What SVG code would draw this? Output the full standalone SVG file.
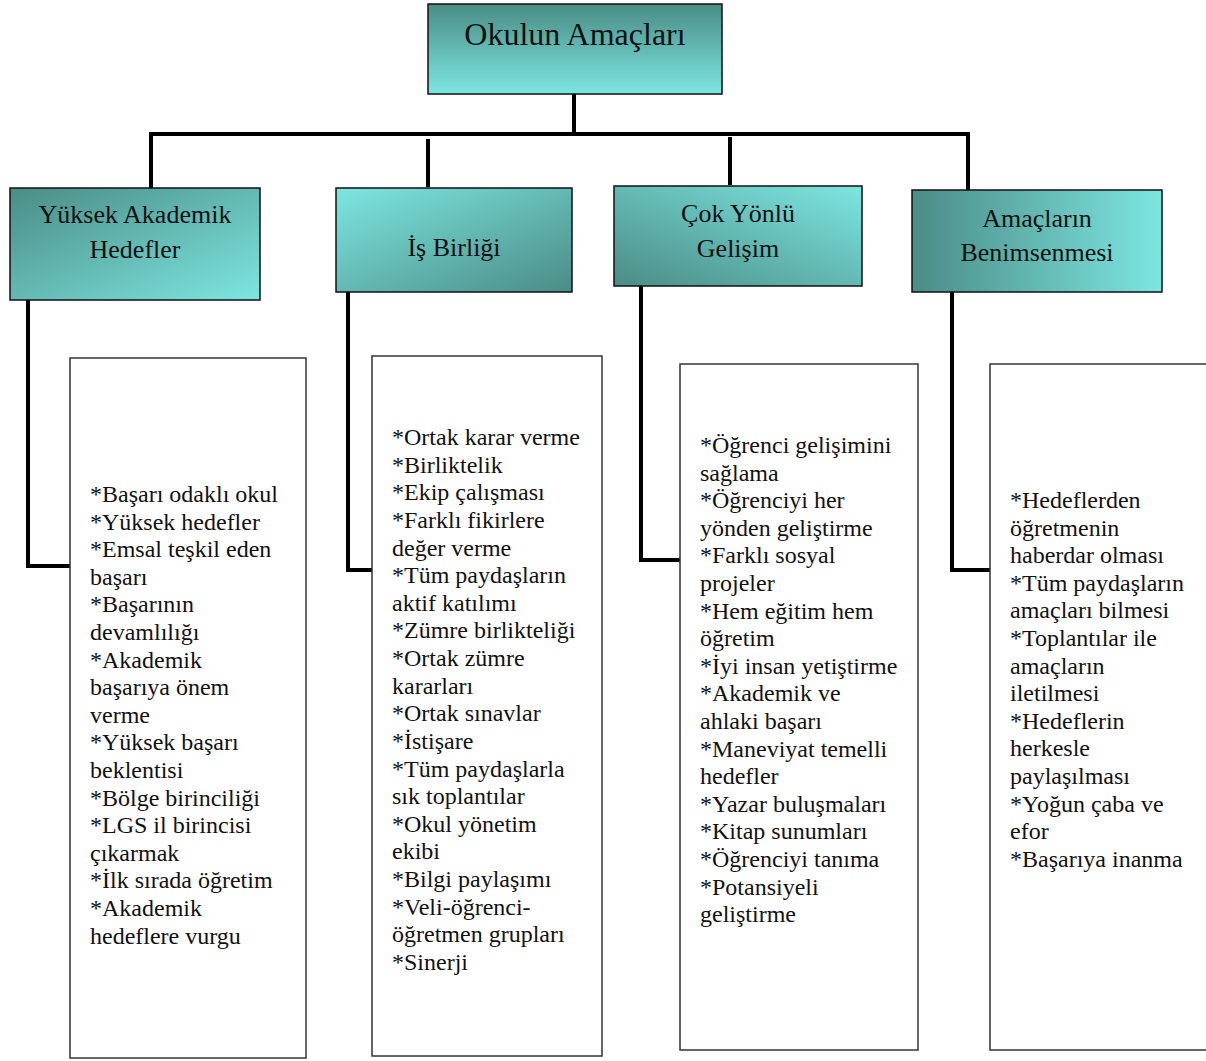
<svg xmlns="http://www.w3.org/2000/svg" width="1206" height="1061" viewBox="0 0 1206 1061">
  <defs>
    <linearGradient id="gTop" x1="0" y1="0" x2="0" y2="1">
      <stop offset="0" stop-color="#4b8c86"/>
      <stop offset="1" stop-color="#7de6e1"/>
    </linearGradient>
    <linearGradient id="gTLdark" x1="0" y1="0" x2="1" y2="1">
      <stop offset="0" stop-color="#4b8c86"/>
      <stop offset="1" stop-color="#7de6e1"/>
    </linearGradient>
    <linearGradient id="gBRdark" x1="0" y1="0" x2="1" y2="1">
      <stop offset="0" stop-color="#7de6e1"/>
      <stop offset="1" stop-color="#4b8c86"/>
    </linearGradient>
    <linearGradient id="gBLdark" x1="0" y1="1" x2="1" y2="0">
      <stop offset="0" stop-color="#4b8c86"/>
      <stop offset="1" stop-color="#7de6e1"/>
    </linearGradient>
    <linearGradient id="gLdark" x1="0" y1="0" x2="1" y2="0">
      <stop offset="0" stop-color="#4b8c86"/>
      <stop offset="1" stop-color="#7de6e1"/>
    </linearGradient>
  </defs>
  <style>
    .head { stroke: #111; stroke-width: 1.5; }
    .list { fill: #fff; stroke: #333; stroke-width: 1.5; }
    .title { font-family: "Liberation Serif", "Times New Roman", serif; font-size: 32px; fill: #111; text-anchor: middle; }
    .lbl { font-family: "Liberation Serif", "Times New Roman", serif; font-size: 26px; fill: #111; text-anchor: middle; }
    .item { font-family: "Liberation Serif", "Times New Roman", serif; font-size: 24px; fill: #111; }
    .wire { fill: none; stroke: #000; stroke-width: 4; stroke-linejoin: miter; }
  </style>
  <rect width="1206" height="1061" fill="#fff"/>

  <!-- connectors -->
  <g id="connectors">
    <path class="wire" d="M574 94 V134"/>
    <path class="wire" d="M151 188 V134 H968 V191"/>
    <path class="wire" d="M428 139 V187"/>
    <path class="wire" d="M730 137 V185"/>
    <path class="wire" d="M28 300 V566 H72"/>
    <path class="wire" d="M348 292 V570 H374"/>
    <path class="wire" d="M641 286 V560 H682"/>
    <path class="wire" d="M952 292 V570 H991"/>
  </g>

  <!-- root node -->
  <g id="okulun-amaclari">
    <rect class="head" x="428" y="4" width="294" height="90" fill="url(#gTop)"/>
    <text class="title" x="575" y="45">Okulun Amaçları</text>
  </g>

  <!-- branch nodes -->
  <g id="yuksek-akademik-hedefler">
    <rect class="head" x="10" y="188" width="250" height="112" fill="url(#gTLdark)"/>
    <text class="lbl" x="135" y="223">Yüksek Akademik</text>
    <text class="lbl" x="135" y="258">Hedefler</text>
  </g>
  <g id="is-birligi">
    <rect class="head" x="336" y="188" width="236" height="104" fill="url(#gBRdark)"/>
    <text class="lbl" x="454" y="256">İş Birliği</text>
  </g>
  <g id="cok-yonlu-gelisim">
    <rect class="head" x="614" y="186" width="248" height="100" fill="url(#gBLdark)"/>
    <text class="lbl" x="738" y="222">Çok Yönlü</text>
    <text class="lbl" x="738" y="257">Gelişim</text>
  </g>
  <g id="amaclarin-benimsenmesi">
    <rect class="head" x="912" y="190" width="250" height="102" fill="url(#gLdark)"/>
    <text class="lbl" x="1037" y="227">Amaçların</text>
    <text class="lbl" x="1037" y="261">Benimsenmesi</text>
  </g>

  <!-- detail lists -->
  <g id="liste-akademik">
    <rect class="list" x="70" y="358" width="236" height="700"/>
    <text class="item" x="90" y="502">
      <tspan x="90" dy="0">*Başarı odaklı okul</tspan>
      <tspan x="90" dy="27.6">*Yüksek hedefler</tspan>
      <tspan x="90" dy="27.6">*Emsal teşkil eden</tspan>
      <tspan x="90" dy="27.6">başarı</tspan>
      <tspan x="90" dy="27.6">*Başarının</tspan>
      <tspan x="90" dy="27.6">devamlılığı</tspan>
      <tspan x="90" dy="27.6">*Akademik</tspan>
      <tspan x="90" dy="27.6">başarıya önem</tspan>
      <tspan x="90" dy="27.6">verme</tspan>
      <tspan x="90" dy="27.6">*Yüksek başarı</tspan>
      <tspan x="90" dy="27.6">beklentisi</tspan>
      <tspan x="90" dy="27.6">*Bölge birinciliği</tspan>
      <tspan x="90" dy="27.6">*LGS il birincisi</tspan>
      <tspan x="90" dy="27.6">çıkarmak</tspan>
      <tspan x="90" dy="27.6">*İlk sırada öğretim</tspan>
      <tspan x="90" dy="27.6">*Akademik</tspan>
      <tspan x="90" dy="27.6">hedeflere vurgu</tspan>
    </text>
  </g>
  <g id="liste-isbirligi">
    <rect class="list" x="372" y="356" width="230" height="700"/>
    <text class="item" x="392" y="445">
      <tspan x="392" dy="0">*Ortak karar verme</tspan>
      <tspan x="392" dy="27.63">*Birliktelik</tspan>
      <tspan x="392" dy="27.63">*Ekip çalışması</tspan>
      <tspan x="392" dy="27.63">*Farklı fikirlere</tspan>
      <tspan x="392" dy="27.63">değer verme</tspan>
      <tspan x="392" dy="27.63">*Tüm paydaşların</tspan>
      <tspan x="392" dy="27.63">aktif katılımı</tspan>
      <tspan x="392" dy="27.63">*Zümre birlikteliği</tspan>
      <tspan x="392" dy="27.63">*Ortak zümre</tspan>
      <tspan x="392" dy="27.63">kararları</tspan>
      <tspan x="392" dy="27.63">*Ortak sınavlar</tspan>
      <tspan x="392" dy="27.63">*İstişare</tspan>
      <tspan x="392" dy="27.63">*Tüm paydaşlarla</tspan>
      <tspan x="392" dy="27.63">sık toplantılar</tspan>
      <tspan x="392" dy="27.63">*Okul yönetim</tspan>
      <tspan x="392" dy="27.63">ekibi</tspan>
      <tspan x="392" dy="27.63">*Bilgi paylaşımı</tspan>
      <tspan x="392" dy="27.63">*Veli-öğrenci-</tspan>
      <tspan x="392" dy="27.63">öğretmen grupları</tspan>
      <tspan x="392" dy="27.63">*Sinerji</tspan>
    </text>
  </g>
  <g id="liste-gelisim">
    <rect class="list" x="680" y="364" width="238" height="686"/>
    <text class="item" x="700" y="453">
      <tspan x="700" dy="0">*Öğrenci gelişimini</tspan>
      <tspan x="700" dy="27.6">sağlama</tspan>
      <tspan x="700" dy="27.6">*Öğrenciyi her</tspan>
      <tspan x="700" dy="27.6">yönden geliştirme</tspan>
      <tspan x="700" dy="27.6">*Farklı sosyal</tspan>
      <tspan x="700" dy="27.6">projeler</tspan>
      <tspan x="700" dy="27.6">*Hem eğitim hem</tspan>
      <tspan x="700" dy="27.6">öğretim</tspan>
      <tspan x="700" dy="27.6">*İyi insan yetiştirme</tspan>
      <tspan x="700" dy="27.6">*Akademik ve</tspan>
      <tspan x="700" dy="27.6">ahlaki başarı</tspan>
      <tspan x="700" dy="27.6">*Maneviyat temelli</tspan>
      <tspan x="700" dy="27.6">hedefler</tspan>
      <tspan x="700" dy="27.6">*Yazar buluşmaları</tspan>
      <tspan x="700" dy="27.6">*Kitap sunumları</tspan>
      <tspan x="700" dy="27.6">*Öğrenciyi tanıma</tspan>
      <tspan x="700" dy="27.6">*Potansiyeli</tspan>
      <tspan x="700" dy="27.6">geliştirme</tspan>
    </text>
  </g>
  <g id="liste-benimseme">
    <rect class="list" x="990" y="364" width="230" height="686"/>
    <text class="item" x="1010" y="508">
      <tspan x="1010" dy="0">*Hedeflerden</tspan>
      <tspan x="1010" dy="27.6">öğretmenin</tspan>
      <tspan x="1010" dy="27.6">haberdar olması</tspan>
      <tspan x="1010" dy="27.6">*Tüm paydaşların</tspan>
      <tspan x="1010" dy="27.6">amaçları bilmesi</tspan>
      <tspan x="1010" dy="27.6">*Toplantılar ile</tspan>
      <tspan x="1010" dy="27.6">amaçların</tspan>
      <tspan x="1010" dy="27.6">iletilmesi</tspan>
      <tspan x="1010" dy="27.6">*Hedeflerin</tspan>
      <tspan x="1010" dy="27.6">herkesle</tspan>
      <tspan x="1010" dy="27.6">paylaşılması</tspan>
      <tspan x="1010" dy="27.6">*Yoğun çaba ve</tspan>
      <tspan x="1010" dy="27.6">efor</tspan>
      <tspan x="1010" dy="27.6">*Başarıya inanma</tspan>
    </text>
  </g>
</svg>
